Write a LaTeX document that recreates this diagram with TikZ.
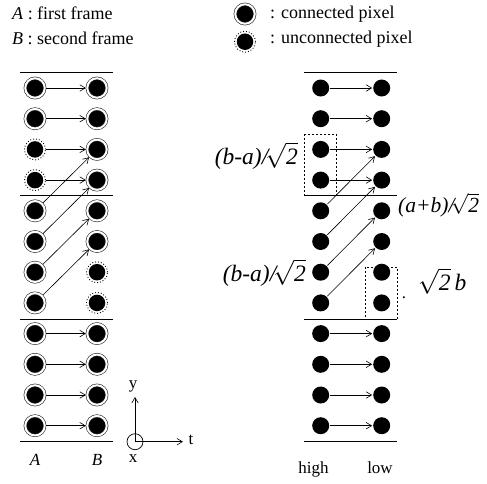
\documentclass[tikz,border=0pt]{standalone}
\usepackage{fontspec}
\setmainfont{Liberation Serif}
\usetikzlibrary{arrows.meta}
\begin{document}
\begin{tikzpicture}[x=1pt,y=-1pt,
 con/.style={circle, fill=black, draw=black!85, line width=0.6pt, double=white, double distance=2pt, minimum size=19.5pt, inner sep=0pt, outer sep=1.4pt},
 unc/.style={circle, fill=black, minimum size=16.5pt, inner sep=0pt, outer sep=2.5pt},
 dotn/.style={circle, fill=black, minimum size=17pt, inner sep=0pt, outer sep=1pt},
 arr/.style={line width=0.6pt, -{Straight Barb[length=5.5pt,width=6.5pt]}},
 rule/.style={line width=0.8pt},
 box/.style={dash pattern=on 2pt off 2pt, line width=0.7pt},
 ring/.style={dotted, line width=0.9pt},
 txt/.style={font=\fontsize{17}{20}\selectfont, inner sep=0pt},
 head/.style={font=\fontsize{18}{21}\selectfont, inner sep=0pt},
 lab/.style={font=\fontsize{23.5}{27}\selectfont\itshape, inner sep=0pt}]
\useasboundingbox (0,0) rectangle (487,483);

% legend
\node[head, anchor=base west] (t1) at (12,19) {\textit{A} : first frame};
\node[head, anchor=base west] (t2) at (12,44) {\textit{B} : second frame};
\node[con] (lc) at (245,14) {};
\node[unc] (lu) at (245,41.7) {};
\draw[ring] (lu.center) circle (10.5pt);
\node[head, anchor=base west] (t3) at (270,18) {: connected pixel};
\node[head, anchor=base west] (t4) at (270,43) {: unconnected pixel};

% pixels
\foreach \i/\sa/\sb in {0/con/con,1/con/con,2/unc/con,3/unc/con,4/con/con,5/con/con,6/con/unc,7/con/unc,8/con/con,9/con/con,10/con/con,11/con/con}{
  \node[\sa] (a\i) at (35,{88+30.7*\i}) {};
  \node[\sb] (b\i) at (97,{88+30.7*\i}) {};
  \node[dotn] (h\i) at (320.7,{88+30.7*\i}) {};
  \node[dotn] (l\i) at (381.7,{88+30.7*\i}) {};
}
\foreach \n in {a2,a3,b6,b7} \draw[ring] (\n.center) circle (10.5pt);

% rules
\foreach \yy in {72.7,195,319,441.7}{
  \draw[rule] (20,\yy) -- (113,\yy);
  \draw[rule] (304,\yy) -- (397,\yy);
}

% arrows
\foreach \i in {0,1,2,3,8,9,10,11}{
  \draw[arr] (a\i) -- (b\i);
  \draw[arr] (h\i) -- (l\i);
}
\foreach \i/\j in {4/2,5/3,6/4,7/5}{
  \draw[arr] (a\i) -- (b\j);
  \draw[arr] (h\i) -- (l\j);
}

% dashed boxes
\draw[box] (304.3,134) rectangle (336,195);
\draw[box] (365.7,267) rectangle (397.3,319);

% labels
\node[lab, anchor=base east] (q1) at (298,164) {(b-a)/\kern-3pt$\sqrt{\mbox{2}}$};
\node[lab, anchor=base east] (q2) at (306,281) {(b-a)/\kern-3pt$\sqrt{\mbox{2}}$};
\node[lab, font=\fontsize{21.5}{25}\selectfont\itshape, anchor=base west] (q3) at (398,212) {(a+b)/\kern-3.5pt$\sqrt{\mbox{2}}$};
\node[lab, anchor=base west] (q4) at (418,290) {$\sqrt{\mbox{2}}$\,b};
\node[txt, anchor=base] (pd) at (404,298) {.};

% axes
\node[circle, draw, line width=0.7pt, minimum size=16pt, inner sep=0pt] (ax) at (135,441.7) {};
\coordinate (ay) at (135,397);
\coordinate (at) at (183,441.7);
\draw[arr] (ax.center) -- (ay);
\draw[arr] (ax.center) -- (at);
\node[txt] (ly) at (133,386) {y};
\node[txt] (lt) at (191,440) {t};
\node[txt] (lx) at (133,459) {x};

% column names
\node[txt, anchor=base] (na) at (35,465) {\textit{A}};
\node[txt, anchor=base] (nb) at (97,465) {\textit{B}};
\node[txt, anchor=base] (nh) at (313.5,473) {high};
\node[txt, anchor=base] (nl) at (380,473) {low};
\end{tikzpicture}
\end{document}
